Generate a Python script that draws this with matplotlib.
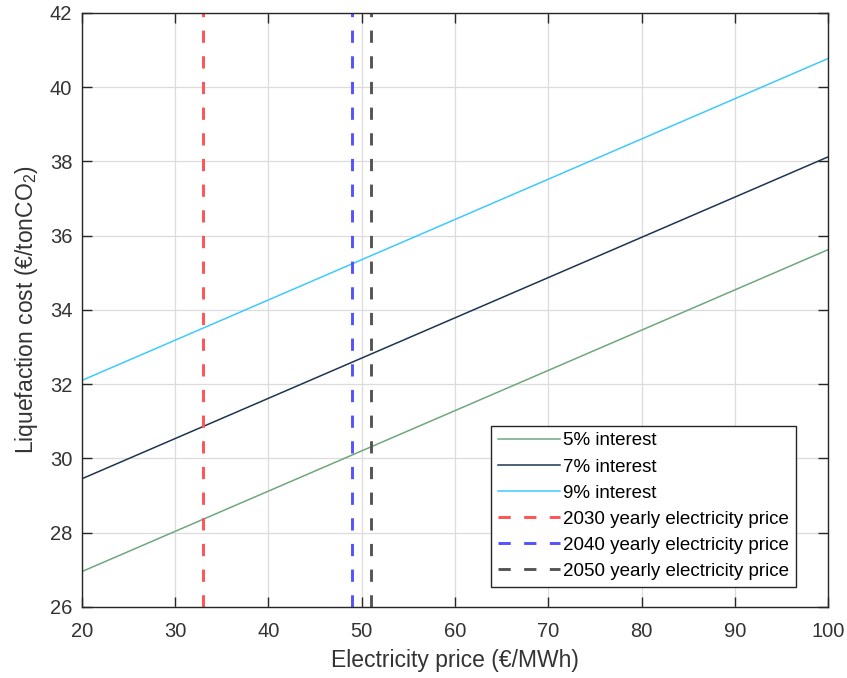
import numpy as np
import matplotlib
matplotlib.use("Agg")
import matplotlib.pyplot as plt

# Electricity price range (EUR/MWh) and liquefaction cost at the ends (EUR/tonCO2)
price_ends = [20, 100]
cost_5pct = [26.95, 35.62]
cost_7pct = [29.45, 38.12]
cost_9pct = [32.10, 40.77]

# Projected yearly electricity prices
year_labels = ["2030 yearly electricity price",
               "2040 yearly electricity price",
               "2050 yearly electricity price"]
year_prices = [33, 49, 51]

series_labels = ["5% interest", "7% interest", "9% interest"]
series_colors = ["#6fa77e", "#1d3550", "#3fcaff"]
year_colors = ["#ff5252", "#5252ff", "#555555"]

family = "Liberation Sans"
plt.rcParams["font.family"] = [family, "DejaVu Sans"]
plt.rcParams["mathtext.fontset"] = "custom"
plt.rcParams["mathtext.rm"] = family
plt.rcParams["mathtext.it"] = family

fig = plt.figure(figsize=(8.47, 6.78), dpi=100)
ax = fig.add_axes([0.0968, 0.105, 0.8808, 0.876])

for vals, lab, col in zip([cost_5pct, cost_7pct, cost_9pct], series_labels, series_colors):
    ax.plot(price_ends, vals, color=col, lw=1.1, label=lab)

for xp, lab, col in zip(year_prices, year_labels, year_colors):
    ax.axvline(xp, color=col, lw=2.1, ls=(0, (4.2, 4.6)), label=lab)

ax.set_xlim(20, 100)
ax.set_ylim(26, 42)
ax.set_xticks(np.arange(20, 101, 10))
ax.set_yticks(np.arange(26, 43, 2))
ax.grid(True, color="#dcdcdc", lw=0.9)
ax.set_axisbelow(True)
ax.tick_params(direction="in", top=True, right=True, length=7, width=1,
               color="#262626", labelsize=14.5, labelcolor="#333333")
ax.tick_params(axis="x", pad=11)
ax.tick_params(axis="y", pad=7)
for s in ax.spines.values():
    s.set_color("#262626")
    s.set_linewidth(1.0)

ax.set_xlabel("Electricity price (€/MWh)", fontsize=16.5, color="#333333", labelpad=6)
ax.set_ylabel("Liquefaction cost (€/tonCO$_2$)", fontsize=16.5, color="#333333", labelpad=7)

leg = ax.legend(loc="lower right", bbox_to_anchor=(0.957, 0.034), fontsize=13.5,
                frameon=True, fancybox=False, edgecolor="#262626",
                handlelength=3.3, handletextpad=0.2, borderpad=0.35,
                labelspacing=0.48, borderaxespad=0, framealpha=1)
leg.get_frame().set_linewidth(1.0)

fig.savefig("out.png", dpi=100)
